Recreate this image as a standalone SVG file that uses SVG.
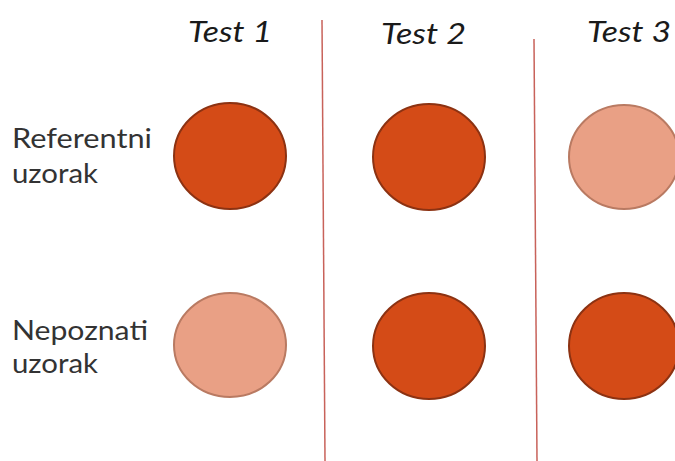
<svg xmlns="http://www.w3.org/2000/svg" width="675" height="461" viewBox="0 0 675 461">
<style>
.bg{fill:#ffffff}
.head{font-family:Lato,"Liberation Sans",sans-serif;font-style:italic;font-size:29px;fill:#1a1a1a}
.lbl{font-family:Lato,"Liberation Sans",sans-serif;font-size:27px;fill:#333333}
.dark{fill:#d44b17;stroke:#8c3212;stroke-width:2}
.light{fill:#e9a085;stroke:#b97a62;stroke-width:2}
.sep{stroke:#c8625a;stroke-width:1.5;fill:none}
</style>
<rect class="bg" x="0" y="0" width="675" height="461"/>
<g id="headers">
<text class="head" x="188" y="42" textLength="84" lengthAdjust="spacingAndGlyphs">Test 1</text>
<text class="head" x="381" y="44" textLength="85" lengthAdjust="spacingAndGlyphs">Test 2</text>
<text class="head" x="587" y="42" textLength="84" lengthAdjust="spacingAndGlyphs">Test 3</text>
</g>
<g id="row-labels">
<text class="lbl" x="12" y="148" textLength="140" lengthAdjust="spacingAndGlyphs">Referentni</text>
<text class="lbl" x="12" y="183" textLength="86" lengthAdjust="spacingAndGlyphs">uzorak</text>
<text class="lbl" x="12" y="340" textLength="136" lengthAdjust="spacingAndGlyphs">Nepoznati</text>
<text class="lbl" x="12" y="373" textLength="86" lengthAdjust="spacingAndGlyphs">uzorak</text>
</g>
<g id="connectors">
<line class="sep" x1="322" y1="20" x2="325" y2="461"/>
<line class="sep" x1="534" y1="39" x2="537" y2="461"/>
</g>
<g id="test1-ref"><ellipse class="dark" cx="230" cy="156" rx="56" ry="53"/></g>
<g id="test1-unk"><ellipse class="light" cx="230" cy="345" rx="56" ry="52"/></g>
<g id="test2-ref"><ellipse class="dark" cx="429" cy="157" rx="56" ry="53"/></g>
<g id="test2-unk"><ellipse class="dark" cx="429" cy="346" rx="56" ry="53"/></g>
<g id="test3-ref"><ellipse class="light" cx="624" cy="157" rx="55" ry="52"/></g>
<g id="test3-unk"><ellipse class="dark" cx="624" cy="346" rx="55" ry="53"/></g>
</svg>
